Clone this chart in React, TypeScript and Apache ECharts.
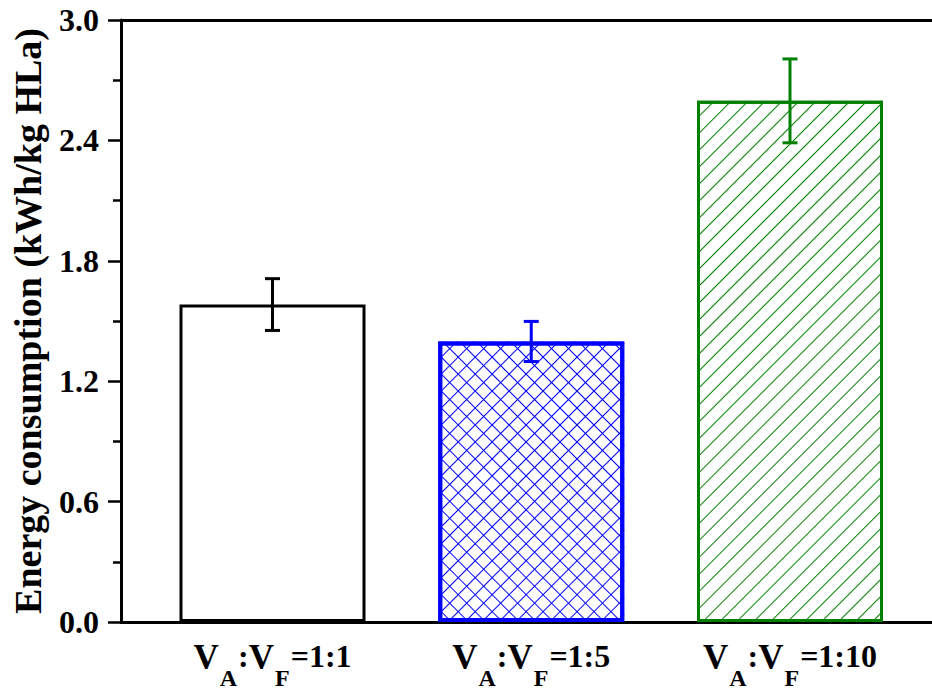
import React, { useEffect, useRef } from "react";
import * as echarts from "echarts";

const ratios = ["1:1", "1:5", "1:10"];
const positions = [1, 2, 3];
const values = [1.582, 1.398, 2.597];
const errors = [0.129, 0.1, 0.209];
const colors = ["#000000", "#0000ff", "#008000"];
const yTickStep = 0.6;

const FONT = "'Liberation Serif', 'Times New Roman', serif";

export default function App() {
  const ref = useRef<HTMLDivElement>(null);
  useEffect(() => {
    if (!ref.current) return;
    const chart = echarts.init(ref.current, null, { renderer: "svg" });

    const stripe = (color: string, rot: number) => ({
      symbol: "rect",
      symbolSize: 1,
      color,
      backgroundColor: null,
      dashArrayX: [1, 0],
      dashArrayY: [1, 11],
      rotation: rot,
    });

    const barData = values.map((v, i) => {
      const item: any = {
        value: [positions[i], v],
        itemStyle: {
          color: "#ffffff",
          borderColor: colors[i],
          borderWidth: i === 1 ? 4 : 3,
        },
      };
      if (i === 1) item.itemStyle.decal = stripe(colors[i], Math.PI / 4);
      if (i === 2) item.itemStyle.decal = stripe(colors[i], -Math.PI / 4);
      return item;
    });

    const overlayData = values.map((v, i) => {
      if (i !== 1) return { value: [positions[i], 0], itemStyle: { color: "transparent", borderWidth: 0 } };
      return {
        value: [positions[i], v],
        itemStyle: {
          color: "transparent",
          borderWidth: 0,
          decal: stripe(colors[i], -Math.PI / 4),
        },
      };
    });

    const errData = values.map((v, i) => [positions[i], v - errors[i], v + errors[i], i]);

    const labelText = (r: string) => `{v|V}{s|A}{m|:}{v|V}{s|F}{m|=${r}}`;

    chart.setOption({
      animation: false,
      aria: { enabled: true, decal: { show: false } },
      grid: { left: 121, right: 0, top: 20, bottom: 67, containLabel: false },
      xAxis: [
        {
          type: "value",
          min: 0.41449,
          max: 3.5488,
          position: "bottom",
          splitLine: { show: false },
          axisLine: { show: true, onZero: false, lineStyle: { color: "#000", width: 3 } },
          axisTick: { show: false },
          axisLabel: {
            customValues: positions,
            margin: 18,
            formatter: (val: number) => labelText(ratios[Math.round(val) - 1] ?? ""),
            rich: {
              v: { fontFamily: FONT, fontWeight: "bold", fontSize: 35, lineHeight: 36, color: "#000", verticalAlign: "top" },
              m: { fontFamily: FONT, fontWeight: "bold", fontSize: 32, lineHeight: 36, color: "#000", verticalAlign: "top" },
              s: {
                fontFamily: FONT,
                fontWeight: "bold",
                fontSize: 24,
                lineHeight: 24,
                color: "#000",
                verticalAlign: "top",
                padding: [26, 1, 0, 1],
              },
            },
          },
        },
        {
          type: "value",
          min: 0.41449,
          max: 3.5488,
          position: "top",
          splitLine: { show: false },
          axisLine: { show: true, onZero: false, lineStyle: { color: "#000", width: 3 } },
          axisTick: { show: false },
          axisLabel: { show: false },
        },
      ],
      yAxis: {
        type: "value",
        min: 0,
        max: 3,
        interval: yTickStep,
        name: "Energy consumption (kWh/kg HLa)",
        nameLocation: "middle",
        nameGap: 74,
        nameTextStyle: { fontFamily: FONT, fontWeight: "bold", fontSize: 38, color: "#000" },
        splitLine: { show: false },
        axisLine: { show: true, onZero: false, lineStyle: { color: "#000", width: 3 } },
        axisTick: { show: true, inside: false, length: 13, lineStyle: { color: "#000", width: 2.5 } },
        minorTick: { show: true, splitNumber: 2, length: 8, lineStyle: { color: "#000", width: 2.5 } },
        axisLabel: {
          margin: 22,
          fontFamily: FONT,
          fontWeight: "bold",
          fontSize: 32,
          color: "#000",
          formatter: (v: number) => v.toFixed(1),
        },
      },
      series: [
        {
          type: "bar",
          xAxisIndex: 0,
          barWidth: 186,
          barGap: "-100%",
          data: barData,
          z: 2,
        },
        {
          type: "bar",
          xAxisIndex: 0,
          barWidth: 186,
          barGap: "-100%",
          data: overlayData,
          z: 3,
          silent: true,
        },
        {
          type: "custom",
          xAxisIndex: 0,
          z: 5,
          data: errData,
          renderItem: (params: any, api: any) => {
            const x = api.value(0);
            const lo = api.coord([x, api.value(1)]);
            const hi = api.coord([x, api.value(2)]);
            const idx = api.value(3);
            const c = colors[idx];
            const hw = 7.5;
            const style = { stroke: c, lineWidth: 3, fill: "none" };
            return {
              type: "group",
              children: [
                { type: "line", shape: { x1: hi[0], y1: hi[1], x2: lo[0], y2: lo[1] }, style },
                { type: "line", shape: { x1: hi[0] - hw, y1: hi[1], x2: hi[0] + hw, y2: hi[1] }, style },
                { type: "line", shape: { x1: lo[0] - hw, y1: lo[1], x2: lo[0] + hw, y2: lo[1] }, style },
              ],
            };
          },
        },
      ],
    });

    return () => chart.dispose();
  }, []);

  return <div ref={ref} style={{ width: 932, height: 690, position: "absolute", left: 0, top: 0, background: "#fff" }} />;
}
